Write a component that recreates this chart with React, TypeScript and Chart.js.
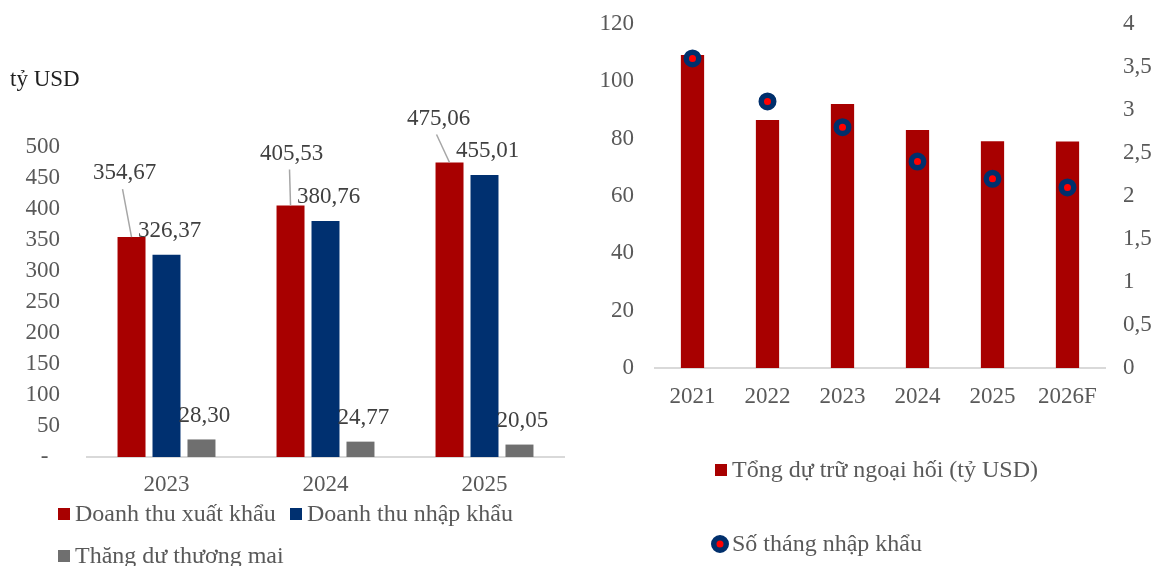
import React, { useEffect, useRef } from "react";
import { Chart, registerables } from "chart.js";

Chart.register(...registerables);

// ---------- data ----------
const tradeYears = ["2023", "2024", "2025"];
const exportValues = [354.67, 405.53, 475.06];
const importValues = [326.37, 380.76, 455.01];
const surplusValues = [28.3, 24.77, 20.05];
const tradeSeriesNames = ["Doanh thu xuất khẩu", "Doanh thu nhập khẩu", "Thăng dư thương mai"];
const tradeUnit = "tỷ USD";

const reserveYears = ["2021", "2022", "2023", "2024", "2025", "2026F"];
const reserveValues = [109.2, 86.5, 92.1, 83.0, 79.1, 79.0];
const importMonths = [3.6, 3.1, 2.8, 2.4, 2.2, 2.1];
const reserveSeriesNames = ["Tổng dự trữ ngoại hối (tỷ USD)", "Số tháng nhập khẩu"];

// ---------- style ----------
const FONT = "'Liberation Serif', 'Times New Roman', serif";
const FS = 23;
const LEGEND_FS = 24;
const TICK_COLOR = "#595959";
const LABEL_COLOR = "#404040";
const RED = "#A80000";
const NAVY = "#003070";
const GRAY = "#6F6F6F";
const AXIS_LINE = "#D9D9D9";

const fmtComma = (v: number, d: number) => v.toFixed(d).replace(".", ",");

const barLabelsPlugin = {
  id: "barLabels",
  afterDatasetsDraw(chart: any, _args: any, opts: any) {
    if (!opts || !opts.enabled) return;
    const ctx = chart.ctx;
    ctx.save();
    ctx.font = `${FS}px ${FONT}`;
    ctx.textAlign = "center";
    ctx.textBaseline = "middle";
    chart.data.datasets.forEach((ds: any, di: number) => {
      const meta = chart.getDatasetMeta(di);
      meta.data.forEach((bar: any, i: number) => {
        const v = ds.data[i];
        const custom = opts.offsets && opts.offsets[di] ? opts.offsets[di][i] : null;
        const off = custom || opts.defaultOffset;
        const lx = bar.x + off[0];
        const ly = bar.y + off[1];
        if (custom) {
          ctx.strokeStyle = "#A6A6A6";
          ctx.lineWidth = 1.5;
          ctx.beginPath();
          ctx.moveTo(lx - 2, ly + 16);
          ctx.lineTo(bar.x, bar.y);
          ctx.stroke();
        }
        ctx.fillStyle = LABEL_COLOR;
        ctx.fillText(fmtComma(v, 2), lx, ly);
      });
    });
    ctx.restore();
  },
};

const customLegendPlugin = {
  id: "customLegend",
  afterDraw(chart: any, _args: any, opts: any) {
    if (!opts || !opts.items) return;
    const ctx = chart.ctx;
    ctx.save();
    ctx.textBaseline = "middle";
    ctx.textAlign = "left";
    ctx.font = `${LEGEND_FS}px ${FONT}`;
    opts.items.forEach((it: any) => {
      const ds = chart.data.datasets[it.ds];
      if (it.marker === "circle") {
        ctx.beginPath();
        ctx.arc(it.x, it.y, ds.pointRadius, 0, Math.PI * 2);
        ctx.fillStyle = ds.pointBackgroundColor;
        ctx.fill();
        ctx.lineWidth = ds.pointBorderWidth;
        ctx.strokeStyle = ds.pointBorderColor;
        ctx.stroke();
        ctx.fillStyle = TICK_COLOR;
        ctx.fillText(ds.label, it.x + 12, it.y + 1);
      } else {
        ctx.fillStyle = ds.backgroundColor;
        ctx.fillRect(it.x, it.y - 6, 12, 12);
        ctx.fillStyle = TICK_COLOR;
        ctx.fillText(ds.label, it.x + 17, it.y + 1);
      }
    });
    if (opts.unit) {
      ctx.font = `${FS}px ${FONT}`;
      ctx.fillStyle = "#1F1F1F";
      ctx.fillText(opts.unit.text, opts.unit.x, opts.unit.y);
    }
    ctx.restore();
  },
};

function TradeChart() {
  const ref = useRef<HTMLCanvasElement | null>(null);
  useEffect(() => {
    if (!ref.current) return;
    const chart = new Chart(ref.current, {
      type: "bar",
      data: {
        labels: tradeYears,
        datasets: [
          { label: tradeSeriesNames[0], data: exportValues, backgroundColor: RED },
          { label: tradeSeriesNames[1], data: importValues, backgroundColor: NAVY },
          { label: tradeSeriesNames[2], data: surplusValues, backgroundColor: GRAY },
        ],
      },
      options: {
        responsive: false,
        animation: false,
        layout: { padding: { top: 147, right: 11, left: 0, bottom: 0 } },
        datasets: { bar: { categoryPercentage: 0.66, barPercentage: 0.8 } },
        plugins: {
          legend: { display: false },
          tooltip: { enabled: false },
          barLabels: {
            enabled: true,
            defaultOffset: [3, -24],
            offsets: [[[-7, -64], [1, -52], [-11, -44]], null, null],
          },
          customLegend: {
            items: [
              { ds: 0, x: 58, y: 514 },
              { ds: 1, x: 290, y: 514 },
              { ds: 2, x: 58, y: 556 },
            ],
            unit: { text: tradeUnit, x: 10, y: 80 },
          },
        } as any,
        scales: {
          x: {
            grid: { display: false, drawTicks: false },
            border: { display: true, color: AXIS_LINE, width: 2 },
            ticks: { color: TICK_COLOR, font: { family: FONT, size: FS }, padding: 14 },
            afterFit: (s: any) => { s.height = 109; },
          },
          y: {
            min: 0,
            max: 500,
            grid: { display: false, drawTicks: false },
            border: { display: false },
            ticks: {
              stepSize: 50,
              color: TICK_COLOR,
              font: { family: FONT, size: FS },
              padding: 27,
              callback: (v: any) => (Number(v) === 0 ? "-  " : String(v)),
            },
            afterFit: (s: any) => { s.width = 87; s.paddingTop = 12; s.paddingBottom = 12; },
          },
        },
      },
      plugins: [barLabelsPlugin, customLegendPlugin],
    });
    return () => chart.destroy();
  }, []);
  return <canvas ref={ref} width={575} height={566} style={{ position: "absolute", left: 0, top: 0, width: 575, height: 566 }} />;
}

function ReserveChart() {
  const ref = useRef<HTMLCanvasElement | null>(null);
  useEffect(() => {
    if (!ref.current) return;
    const chart = new Chart(ref.current, {
      type: "bar",
      data: {
        labels: reserveYears,
        datasets: [
          {
            type: "bar",
            label: reserveSeriesNames[0],
            data: reserveValues,
            backgroundColor: RED,
            yAxisID: "y",
            order: 1,
            categoryPercentage: 1,
            barPercentage: 0.31,
          } as any,
          {
            type: "line",
            label: reserveSeriesNames[1],
            data: importMonths,
            yAxisID: "y1",
            showLine: false,
            pointRadius: 6.25,
            pointBorderWidth: 5.5,
            pointBackgroundColor: "#FF0000",
            pointBorderColor: "#002F6C",
            pointHoverRadius: 6.25,
            order: 0,
          } as any,
        ],
      },
      options: {
        responsive: false,
        animation: false,
        layout: { padding: { top: 24, right: 0, left: 0, bottom: 0 } },
        plugins: {
          legend: { display: false },
          tooltip: { enabled: false },
          customLegend: {
            items: [
              { ds: 0, x: 125, y: 470 },
              { ds: 1, x: 130, y: 544, marker: "circle" },
            ],
          },
        } as any,
        scales: {
          x: {
            grid: { display: false, drawTicks: false },
            border: { display: true, color: AXIS_LINE, width: 2 },
            ticks: { color: TICK_COLOR, font: { family: FONT, size: FS }, padding: 15 },
            afterFit: (s: any) => { s.height = 198; },
          },
          y: {
            position: "left",
            min: 0,
            max: 120,
            grid: { display: false, drawTicks: false },
            border: { display: false },
            ticks: { stepSize: 20, color: TICK_COLOR, font: { family: FONT, size: FS }, padding: 21 },
            afterFit: (s: any) => { s.width = 65; s.paddingTop = 12; s.paddingBottom = 12; },
          },
          y1: {
            position: "right",
            min: 0,
            max: 4,
            grid: { display: false, drawTicks: false },
            border: { display: false },
            ticks: {
              stepSize: 0.5,
              color: TICK_COLOR,
              font: { family: FONT, size: FS },
              padding: 18,
              callback: (v: any) => String(v).replace(".", ","),
            },
            afterFit: (s: any) => { s.width = 49; s.paddingTop = 12; s.paddingBottom = 12; },
          },
        },
      },
      plugins: [customLegendPlugin],
    });
    return () => chart.destroy();
  }, []);
  return <canvas ref={ref} width={564} height={566} style={{ position: "absolute", left: 590, top: 0, width: 564, height: 566 }} />;
}

export default function App() {
  return (
    <div style={{ position: "absolute", left: 0, top: 0, width: 1154, height: 566, overflow: "hidden", background: "#fff" }}>
      <TradeChart />
      <ReserveChart />
    </div>
  );
}
